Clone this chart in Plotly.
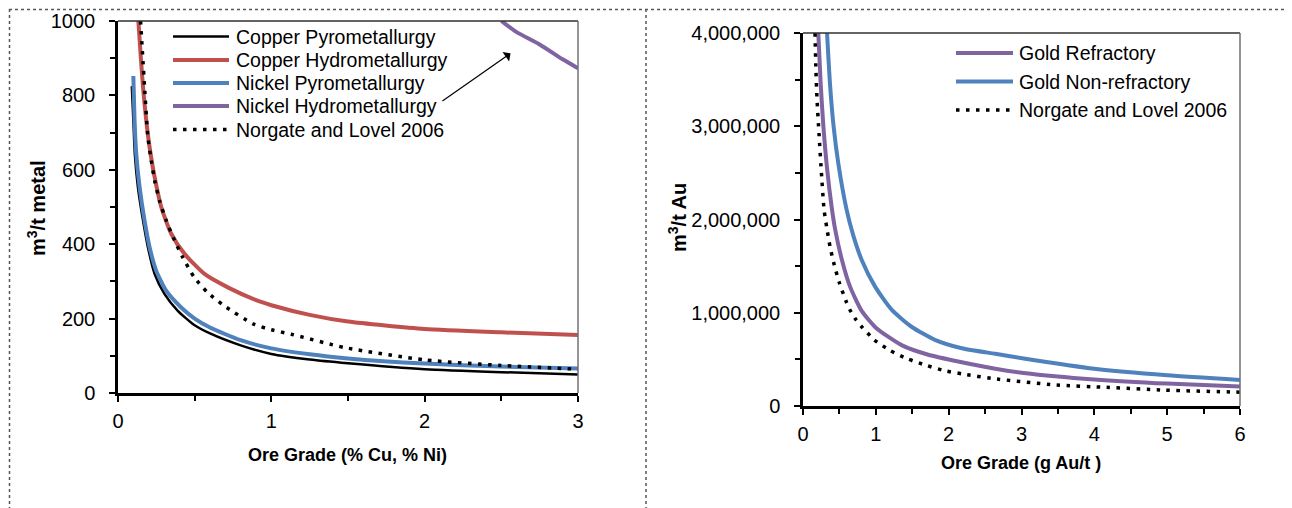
import plotly.graph_objects as go

# ---------------- Left panel data (m3/t metal vs ore grade %) ----------------
cu_pyro_x = [0.09, 0.1, 0.11, 0.13, 0.163, 0.195, 0.239, 0.304, 0.39, 0.5, 0.6, 0.8, 1.0, 1.25, 1.5, 2.0, 2.5, 3.0]
cu_pyro_y = [825, 735, 640, 553, 464, 392, 320, 266, 221, 182, 160, 128, 105, 90, 80, 64, 56, 50]

cu_hydro_x = [0.133, 0.147, 0.163, 0.184, 0.206, 0.239, 0.282, 0.347, 0.434, 0.564, 0.716, 0.91, 1.0,
              1.25, 1.5, 2.0, 2.5, 3.0]
cu_hydro_y = [1000, 913, 823, 733, 661, 580, 500, 428, 374, 320, 284, 248, 236, 210, 192, 172, 163, 156]

ni_pyro_x = [0.1, 0.108, 0.119, 0.141, 0.173, 0.206, 0.249, 0.314, 0.412, 0.5, 0.6, 0.8, 1.0, 1.25, 1.5,
             2.0, 2.5, 3.0]
ni_pyro_y = [852, 733, 643, 553, 464, 392, 329, 275, 230, 200, 176, 142, 120, 104, 93, 79, 71, 66]

ni_hydro_x = [2.5, 2.6, 2.75, 2.9, 3.0]
ni_hydro_y = [1000, 970, 937, 897, 873]

nl_left_x = [0.147, 0.173, 0.195, 0.217, 0.239, 0.271, 0.315, 0.369, 0.423, 0.499, 0.585, 0.694, 0.886,
             1.0, 1.13, 1.48, 2.0, 2.5, 3.0]
nl_left_y = [1000, 823, 688, 625, 571, 517, 463, 410, 364, 310, 270, 234, 185, 170, 158, 122, 89, 74, 64]

# ---------------- Right panel data (m3/t Au vs ore grade g/t) ----------------
au_ref_x = [0.21, 0.243, 0.28, 0.33, 0.394, 0.44, 0.53, 0.646, 0.806, 1.0, 1.36, 1.72, 2.18, 2.64, 3.03,
            4.0, 5.0, 6.0]
au_ref_y = [4.0e6, 3.45e6, 3.0e6, 2.55e6, 2.13e6, 1.9e6, 1.58e6, 1.28e6, 1.02e6, 0.84e6, 0.65e6, 0.55e6,
            0.47e6, 0.40e6, 0.355e6, 0.285e6, 0.24e6, 0.21e6]

au_non_x = [0.33, 0.371, 0.42, 0.485, 0.60, 0.69, 0.806, 0.99, 1.22, 1.49, 1.81, 2.18, 2.64, 3.03, 4.0,
            5.0, 6.0]
au_non_y = [4.0e6, 3.45e6, 3.0e6, 2.6e6, 2.1e6, 1.83e6, 1.566e6, 1.28e6, 1.03e6, 0.85e6, 0.71e6, 0.62e6,
            0.56e6, 0.51e6, 0.40e6, 0.33e6, 0.28e6]

nl_right_x = [0.165, 0.176, 0.193, 0.22, 0.256, 0.29, 0.325, 0.371, 0.43, 0.5, 0.59, 0.645, 0.714, 0.797,
              0.98, 1.2, 1.44, 1.69, 1.94, 2.2, 2.59, 3.48, 4.17, 4.97, 5.89, 6.0]
nl_right_y = [4.0e6, 3.64e6, 3.28e6, 2.92e6, 2.46e6, 2.1e6, 1.92e6, 1.71e6, 1.51e6, 1.32e6, 1.126e6,
              1.03e6, 0.94e6, 0.858e6, 0.708e6, 0.593e6, 0.504e6, 0.436e6, 0.379e6, 0.343e6, 0.296e6,
              0.225e6, 0.20e6, 0.17e6, 0.15e6, 0.148e6]

left_xticks = [0, 1, 2, 3]
left_yticks = [0, 200, 400, 600, 800, 1000]
right_xticks = [0, 1, 2, 3, 4, 5, 6]
right_yticks = [0, 1000000, 2000000, 3000000, 4000000]

BLACK = "#000000"
RED = "#C0504D"
BLUE = "#4F81BD"
PURPLE = "#8064A2"
FONT = "Liberation Sans"
DOT = "3.5px,6.5px"

# the page body has an 8px margin; positions below are given in window pixels
OFF = 8
W, H = 1292 - OFF, 508 - OFF

fig = go.Figure()

# (name, x, y, color, width, dash, xaxis, yaxis)
series = [
    ("Copper Pyrometallurgy", cu_pyro_x, cu_pyro_y, BLACK, 2.5, "solid", "x", "y"),
    ("Copper Hydrometallurgy", cu_hydro_x, cu_hydro_y, RED, 4, "solid", "x", "y"),
    ("Nickel Pyrometallurgy", ni_pyro_x, ni_pyro_y, BLUE, 4, "solid", "x", "y"),
    ("Nickel Hydrometallurgy", ni_hydro_x, ni_hydro_y, PURPLE, 4, "solid", "x", "y"),
    ("Norgate and Lovel 2006", nl_left_x, nl_left_y, BLACK, 3.5, DOT, "x", "y"),
    ("Gold Refractory", au_ref_x, au_ref_y, PURPLE, 4, "solid", "x2", "y2"),
    ("Gold Non-refractory", au_non_x, au_non_y, BLUE, 4, "solid", "x2", "y2"),
    ("Norgate and Lovel 2006", nl_right_x, nl_right_y, BLACK, 3.5, DOT, "x2", "y2"),
]
for name, x, y, color, width, dash, xa, ya in series:
    fig.add_trace(go.Scatter(
        x=x, y=y, name=name, mode="lines",
        line=dict(color=color, width=width, dash=dash, shape="spline", smoothing=0.6),
        xaxis=xa, yaxis=ya, showlegend=False, hoverinfo="x+y+name"))

axis_common = dict(
    showline=True, linecolor="black", linewidth=2.5, ticks="outside", ticklen=6,
    tickwidth=1.5, tickcolor="black", showgrid=False, zeroline=False, automargin=False,
    tickfont=dict(family=FONT, size=20, color="#000000"),
    minor=dict(ticks="outside", ticklen=5, tickwidth=1.5, tickcolor="black", showgrid=False),
    fixedrange=True,
)


def px(xp, yp):
    """window pixel -> paper fraction"""
    return (xp - OFF) / W, 1 - (yp - OFF) / H


L_x0, L_x1, L_y0, L_y1 = 118, 578, 393, 21
R_x0, R_x1, R_y0, R_y1 = 803, 1240, 406, 33

fig.update_layout(
    width=W, height=H,
    margin=dict(l=0, r=0, t=0, b=0, autoexpand=False),
    paper_bgcolor="white", plot_bgcolor="white",
    font=dict(family=FONT, size=18, color="#000000"),
    xaxis=dict(domain=[px(L_x0, 0)[0], px(L_x1, 0)[0]], range=[0, 3], tickvals=left_xticks,
               anchor="y", ticklabelstandoff=2, minor_dtick=0.5, **axis_common),
    yaxis=dict(domain=[px(0, L_y0)[1], px(0, L_y1)[1]], range=[0, 1000], tickvals=left_yticks,
               anchor="x", ticklabelstandoff=10, minor_dtick=100, **axis_common),
    xaxis2=dict(domain=[px(R_x0, 0)[0], px(R_x1, 0)[0]], range=[0, 6], tickvals=right_xticks,
                anchor="y2", ticklabelstandoff=2, minor_dtick=0.5, **axis_common),
    yaxis2=dict(domain=[px(0, R_y0)[1], px(0, R_y1)[1]], range=[0, 4000000], tickvals=right_yticks,
                tickformat=",d", anchor="x2", ticklabelstandoff=10, minor_dtick=500000,
                **axis_common),
    showlegend=False,
)

# thin top/right frame of each plot area
for xr, yr in (("x", "y"), ("x2", "y2")):
    fig.add_shape(type="line", xref=f"{xr} domain", yref=f"{yr} domain", x0=0, x1=1, y0=1, y1=1,
                  line=dict(color="#303030", width=1.5))
    fig.add_shape(type="line", xref=f"{xr} domain", yref=f"{yr} domain", x0=1, x1=1, y0=0, y1=1,
                  line=dict(color="#707070", width=1.5))

# dotted panel borders (kept just inside the drawable page area)
for (x0, y0, x1, y1) in ((9, 9.5, 645, 9.5), (645, 9.5, 1292, 9.5), (9.5, 9, 9.5, 508),
                         (646, 9, 646, 508)):
    a0, b0 = px(x0, y0)
    a1, b1 = px(x1, y1)
    fig.add_shape(type="line", xref="paper", yref="paper", x0=a0, x1=a1, y0=b0, y1=b1,
                  line=dict(color="#555555", width=1.5, dash="dot"))

# legends (one per panel), key line + label
legend_left = dict(line_x=(173, 229), text_x=234, rows=[36.5, 60, 83, 106, 129.5], idx=[0, 1, 2, 3, 4])
legend_right = dict(line_x=(956, 1013), text_x=1017, rows=[53, 81.5, 110], idx=[5, 6, 7])
for lg in (legend_left, legend_right):
    for row_y, i in zip(lg["rows"], lg["idx"]):
        name, _, _, color, width, dash, _, _ = series[i]
        a0, b0 = px(lg["line_x"][0], row_y)
        a1, _ = px(lg["line_x"][1], row_y)
        fig.add_shape(type="line", xref="paper", yref="paper", x0=a0, x1=a1, y0=b0, y1=b0,
                      line=dict(color=color, width=width, dash=dash))
        tx, ty = px(lg["text_x"], row_y)
        fig.add_annotation(text=name, xref="paper", yref="paper", x=tx, y=ty, showarrow=False,
                           xanchor="left", yanchor="middle",
                           font=dict(family=FONT, size=19.5, color="#000000"))

# axis titles
titles = [
    ("Ore Grade (% Cu, % Ni)", 348, 455, 0, 18),
    ("m<sup>3</sup>/t metal", 36, 208, -90, 20),
    ("Ore Grade (g Au/t )", 1021, 463, 0, 18),
    ("m<sup>3</sup>/t Au", 678, 218, -90, 20),
]
for text, xp, yp, ang, fs in titles:
    a, b = px(xp, yp)
    fig.add_annotation(text=f"<b>{text}</b>", xref="paper", yref="paper",
                       x=a, y=b, showarrow=False, textangle=ang,
                       font=dict(family=FONT, size=fs, color="#000000"),
                       xanchor="center", yanchor="middle")

# arrow pointing to the Nickel Hydrometallurgy curve
fig.add_annotation(x=2.56, y=913, ax=2.106, ay=782, xref="x", yref="y", axref="x", ayref="y",
                   text="", showarrow=True, arrowhead=1, arrowsize=1.6, arrowwidth=1.2,
                   arrowcolor="black")

fig.write_html("out.html")
